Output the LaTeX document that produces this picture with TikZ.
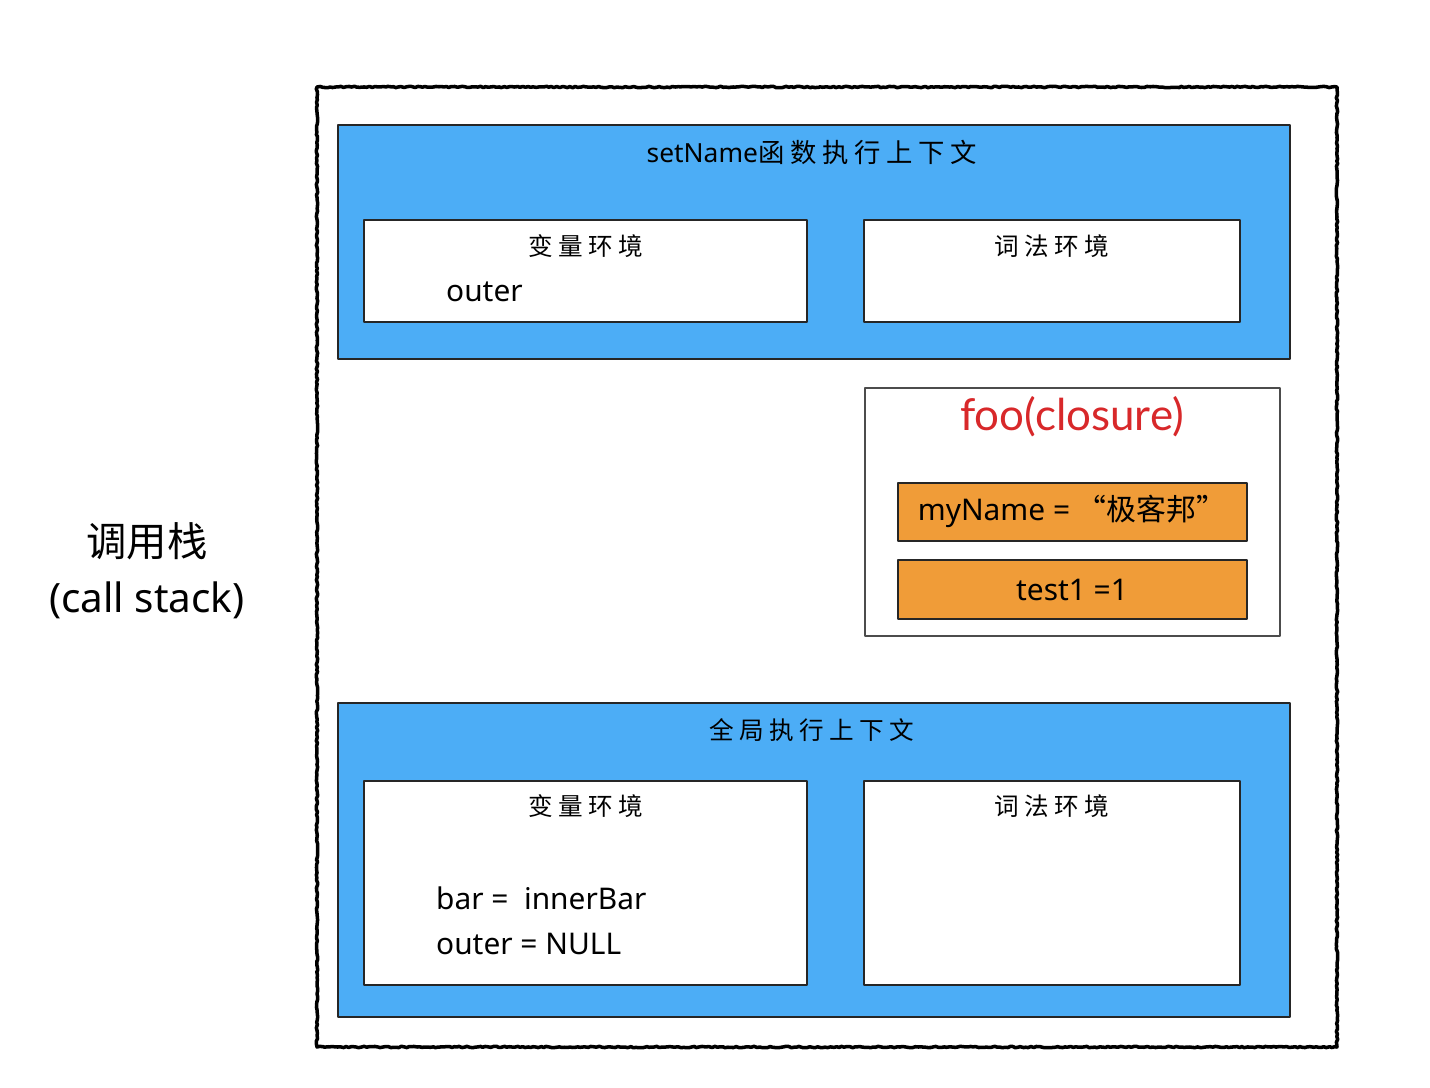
\documentclass[tikz,border=0pt]{standalone}
\usepackage{fontspec}
\setmainfont{Noto Sans CJK SC}
\newfontfamily\cjk[LetterSpace=22]{Noto Sans CJK SC}
\newfontfamily\latn{Noto Sans}
\newfontfamily\clos{Lato}
\usetikzlibrary{decorations.pathmorphing}
\definecolor{ctxblue}{HTML}{4CADF6}
\definecolor{varorange}{HTML}{F09C38}
\definecolor{closred}{HTML}{D8282A}

\begin{document}
\begin{tikzpicture}[line cap=round,line join=round,x=0.02cm,y=-0.02cm]
	\useasboundingbox (0,0) rectangle (1430,1088);
	\tikzset{stackframe/.style={line width=2pt,decorate,decoration={random steps,segment length=1.5pt,amplitude=0.4pt}},
		ctxbox/.style={draw=black!85,line width=1.1pt,fill=ctxblue},
		envbox/.style={draw=black!85,line width=1.1pt,fill=white},
		closbox/.style={draw=black!70,line width=0.8pt,fill=white},
		valbox/.style={draw=black!85,line width=1.1pt,fill=varorange},
		title/.style={font=\fontsize{14}{16}\selectfont\cjk},
		vartext/.style={font=\fontsize{17}{19}\selectfont\latn,anchor=west}}
	% call stack frame
	\draw[stackframe] (317,87) rectangle (1337,1047);
	\node[font=\fontsize{23}{26}\selectfont] (stacklbl) at (147,541) {调用栈};
	\node[font=\fontsize{23}{26}\selectfont\latn] (stackeng) at (147,600) {(call stack)};
	% setName context
	\draw[ctxbox] (338,125) rectangle (1290,359);
	\node[title,font=\fontsize{15}{17}\selectfont\cjk] (setnamettl) at (812,152) {{\latn setName}函数执行上下文};
	\draw[envbox] (364,220) rectangle (807,322);
	\node[title] (setnamevar) at (586,246) {变量环境};
	\node[vartext] (setnameouter) at (440,292) {outer};
	\draw[envbox] (864,220) rectangle (1240,322);
	\node[title] (setnamelex) at (1052,246) {词法环境};
	% closure
	\draw[closbox] (865,388) rectangle (1280,636);
	\node[font=\fontsize{25}{28}\selectfont\clos,text=closred] (closttl) at (1072,417) {foo(closure)};
	\draw[valbox] (898,483) rectangle (1247,541);
	\node[font=\fontsize{17}{20}\selectfont] (myname) at (1072,511) {{\latn myName =} “极客邦”};
	\draw[valbox] (898,560) rectangle (1247,619);
	\node[font=\fontsize{17}{20}\selectfont\latn] (testone) at (1072,590) {test1 =1};
	% global context
	\draw[ctxbox] (338,703) rectangle (1290,1017);
	\node[title] (globalttl) at (812,730) {全局执行上下文};
	\draw[envbox] (364,781) rectangle (807,985);
	\node[title] (globalvar) at (586,806) {变量环境};
	\node[vartext] (globalbar) at (430,898) {bar =\ \ innerBar};
	\node[vartext] (globalouter) at (430,944) {outer = NULL};
	\draw[envbox] (864,781) rectangle (1240,985);
	\node[title] (globallex) at (1052,806) {词法环境};
\end{tikzpicture}
\end{document}
